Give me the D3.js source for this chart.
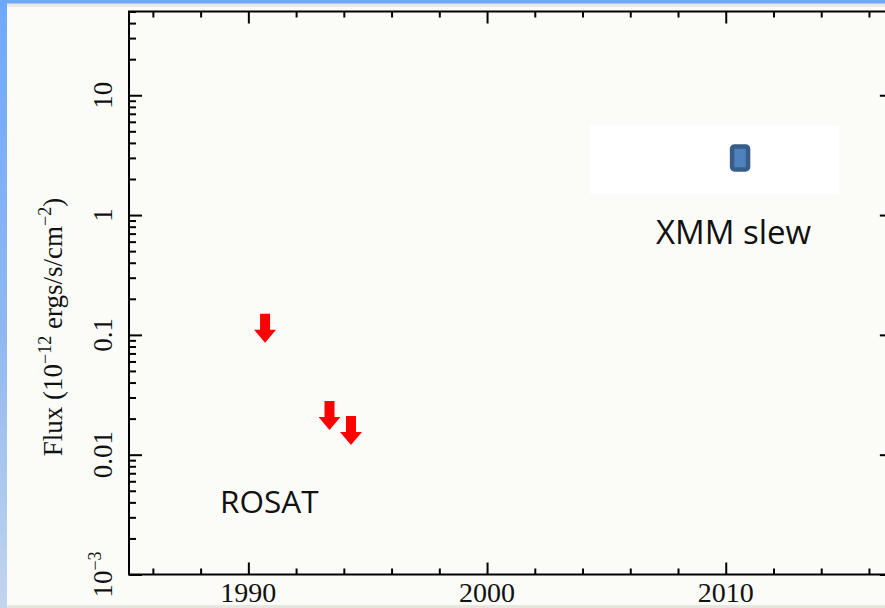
<!DOCTYPE html>
<html>
<head>
<meta charset="utf-8">
<script src="https://cdn.jsdelivr.net/npm/d3@7"></script>
<style>
  html, body { margin: 0; padding: 0; background: #ffffff; }
  svg { display: block; }
</style>
</head>
<body>
<svg id="chart" width="885" height="608"></svg>
<script>
// Light-curve data: ROSAT upper limits and the XMM slew detection
const rosatYears = [1990.7, 1993.4, 1994.3];
const rosatLimits = [0.15, 0.028, 0.021];
const xmmYears = [2010.6];
const xmmFlux = [3.0];

// Axis ticks and labels
const yearMajor = [1990, 2000, 2010];
const yearLabels = ["1990", "2000", "2010"];
const fluxMajor = [1e-3, 1e-2, 1e-1, 1, 10];
const fluxLabels = [["10", "\u22123"], ["0.01"], ["0.1"], ["1"], ["10"]];

const W = 885, H = 608;
const svg = d3.select("#chart");

// Slide background: blue frame with a light panel
const defs = svg.append("defs");
const grad = defs.append("linearGradient").attr("id", "frameGrad")
  .attr("x1", 0).attr("y1", 0).attr("x2", 0).attr("y2", 1);
grad.append("stop").attr("offset", "0%").attr("stop-color", "#6ea8ff");
grad.append("stop").attr("offset", "55%").attr("stop-color", "#90b8f0");
grad.append("stop").attr("offset", "100%").attr("stop-color", "#c2d5ee");
svg.append("rect").attr("width", W).attr("height", H).attr("fill", "url(#frameGrad)");
svg.append("rect").attr("x", 7).attr("y", 3.5).attr("width", W - 7).attr("height", H - 3.5)
  .attr("fill", "#ebe8e0");
svg.append("rect").attr("x", 7).attr("y", 7).attr("width", W - 7).attr("height", H - 10)
  .attr("fill", "#fbfcf8");
svg.append("rect").attr("x", 7).attr("y", 605.5).attr("width", W - 7).attr("height", 2.5)
  .attr("fill", "#e6e6df");

// Plot area
const plotLeft = 129, plotTop = 11.5, plotBottom = 574.5;
const x = d3.scaleLinear().domain([1985, 2017]).range([plotLeft, plotLeft + 32 * 23.87]);
const y = d3.scaleLog().domain([1e-3, 50]).range([plotBottom, plotTop]);
const plotRight = x.range()[1];

const yearMinor = d3.range(1986, 2017, 2).filter(v => v % 10 !== 0);
const fluxMinor = [];
[1e-3, 1e-2, 1e-1, 1, 10].forEach(d => {
  for (let k = 2; k <= 9; k++) { const v = d * k; if (v <= 50) fluxMinor.push(v); }
});

const tickStyle = g => {
  g.select(".domain").remove();
  g.selectAll(".tick text").remove();
  g.selectAll(".tick line").attr("stroke", "#000").attr("stroke-width", 2);
};

const plot = svg.append("g");

// Ticks on all four sides, pointing inward
plot.append("g").attr("transform", `translate(0,${plotBottom})`)
  .call(d3.axisBottom(x).tickValues(yearMajor).tickSize(-12)).call(tickStyle);
plot.append("g").attr("transform", `translate(0,${plotBottom})`)
  .call(d3.axisBottom(x).tickValues(yearMinor).tickSize(-6)).call(tickStyle);
plot.append("g").attr("transform", `translate(0,${plotTop})`)
  .call(d3.axisTop(x).tickValues(yearMajor).tickSize(-12)).call(tickStyle);
plot.append("g").attr("transform", `translate(0,${plotTop})`)
  .call(d3.axisTop(x).tickValues(yearMinor).tickSize(-6)).call(tickStyle);
plot.append("g").attr("transform", `translate(${plotLeft},0)`)
  .call(d3.axisLeft(y).tickValues(fluxMajor).tickSize(-13)).call(tickStyle);
plot.append("g").attr("transform", `translate(${plotLeft},0)`)
  .call(d3.axisLeft(y).tickValues(fluxMinor).tickSize(-7)).call(tickStyle);
plot.append("g").attr("transform", `translate(${plotRight},0)`)
  .call(d3.axisRight(y).tickValues(fluxMajor).tickSize(-13)).call(tickStyle);
plot.append("g").attr("transform", `translate(${plotRight},0)`)
  .call(d3.axisRight(y).tickValues(fluxMinor).tickSize(-7)).call(tickStyle);

// Frame
plot.append("rect").attr("x", plotLeft).attr("y", plotTop)
  .attr("width", plotRight - plotLeft).attr("height", plotBottom - plotTop)
  .attr("fill", "none").attr("stroke", "#000").attr("stroke-width", 2);

const serif = "'Liberation Serif', 'Times New Roman', serif";

// Year labels
plot.selectAll("text.xl").data(yearMajor).join("text").attr("class", "xl")
  .attr("x", d => x(d)).attr("y", 601.5)
  .attr("text-anchor", "middle")
  .attr("font-family", serif).attr("font-size", 28).attr("fill", "#111")
  .text((d, i) => yearLabels[i]);

// Flux labels, rotated
const yl = plot.selectAll("text.yl").data(fluxMajor).join("text").attr("class", "yl")
  .attr("transform", d => `translate(112,${y(d)}) rotate(-90)`)
  .attr("text-anchor", "middle")
  .attr("font-family", serif).attr("font-size", 27).attr("fill", "#111");
yl.each(function (d, i) {
  const t = d3.select(this);
  const parts = fluxLabels[i];
  t.append("tspan").text(parts[0]);
  if (parts.length > 1) {
    t.append("tspan").attr("font-size", 18).attr("dy", -11).text(parts[1]);
  }
});

// Axis title
const title = svg.append("text")
  .attr("transform", "translate(62,327) rotate(-90)")
  .attr("text-anchor", "middle")
  .attr("font-family", serif).attr("font-size", 27).attr("fill", "#111");
title.append("tspan").text("Flux (10");
title.append("tspan").attr("font-size", 18).attr("dy", -11).text("\u221212");
title.append("tspan").attr("dy", 11).text(" ergs/s/cm");
title.append("tspan").attr("font-size", 18).attr("dy", -11).text("\u22122");
title.append("tspan").attr("dy", 11).text(")");

// White backdrop behind the XMM point
svg.append("rect").attr("x", 590).attr("y", 125).attr("width", 249).attr("height", 69)
  .attr("fill", "#ffffff");

// XMM slew detection
svg.selectAll("rect.xmm").data(xmmYears).join("rect").attr("class", "xmm")
  .attr("x", d => x(d) - 8).attr("y", (d, i) => y(xmmFlux[i]) - 11.5)
  .attr("width", 16).attr("height", 23).attr("rx", 2.5)
  .attr("fill", "#4f81bd").attr("stroke", "#385d8a").attr("stroke-width", 4.5);

// ROSAT upper limits as downward block arrows
const arrowPath = "M-5,0 L5,0 L5,16 L11,16 L0,29 L-11,16 L-5,16 Z";
svg.selectAll("path.lim").data(rosatYears).join("path").attr("class", "lim")
  .attr("transform", (d, i) => `translate(${x(d)},${y(rosatLimits[i])})`)
  .attr("d", arrowPath)
  .attr("fill", "#ff0000");

// Instrument labels
const sans = "'Open Sans', 'Noto Sans', sans-serif";
svg.append("text").attr("x", 220).attr("y", 512.7)
  .attr("font-family", sans).attr("font-size", 31.5).attr("fill", "#111").text("ROSAT");
svg.append("text").attr("x", 656).attr("y", 244)
  .attr("font-family", sans).attr("font-size", 33).attr("fill", "#111").text("XMM slew");
</script>
</body>
</html>
